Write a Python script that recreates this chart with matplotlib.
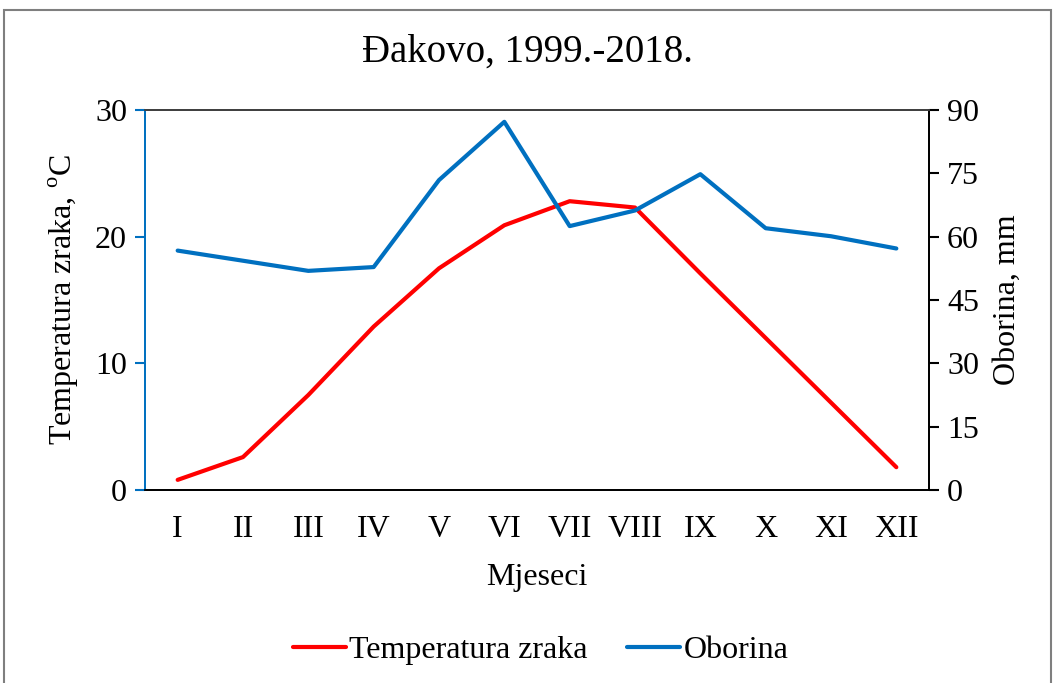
import matplotlib
matplotlib.use("Agg")
import matplotlib.pyplot as plt
from matplotlib.patches import Rectangle

# data
months = ["I", "II", "III", "IV", "V", "VI", "VII", "VIII", "IX", "X", "XI", "XII"]
temperatura = [0.8, 2.6, 7.5, 12.9, 17.5, 20.9, 22.8, 22.3, 17.1, 12.0, 6.9, 1.8]
oborina = [56.7, 54.3, 51.9, 52.8, 73.4, 87.2, 62.5, 66.2, 74.8, 62.0, 60.1, 57.2]

RED = "#FF0000"
BLUE = "#0070C0"
FS = 23

plt.rcParams["font.family"] = ["Liberation Serif", "DejaVu Serif"]
plt.rcParams["mathtext.fontset"] = "custom"
plt.rcParams["mathtext.rm"] = "Liberation Serif"

fig = plt.figure(figsize=(10.56, 6.83), dpi=100)
ax = fig.add_axes([145/1056, 1-490/683, 784/1056, 380/683])
ax2 = ax.twinx()

x = list(range(len(months)))
l1, = ax.plot(x, temperatura, color=RED, lw=3, solid_capstyle="round",
              label="Temperatura zraka")
l2, = ax2.plot(x, oborina, color=BLUE, lw=3, solid_capstyle="round",
               label="Oborina")

ax.set_xlim(-0.5, 11.5)
ax.set_ylim(0, 30)
ax.set_yticks([0, 10, 20, 30])
ax2.set_ylim(0, 90)
ax2.set_yticks([0, 15, 30, 45, 60, 75, 90])
ax.set_xticks(x)
ax.set_xticklabels(months)

ax.tick_params(axis="x", length=0, labelsize=FS, pad=18)
ax.tick_params(axis="y", direction="out", length=7, width=1.5, color=BLUE,
               labelsize=FS, pad=6)
ax2.tick_params(axis="y", direction="out", length=7, width=1.5, color="black",
                labelsize=FS, pad=6)

for a in (ax, ax2):
    for s in a.spines.values():
        s.set_linewidth(1.3)
ax.spines["left"].set_color(BLUE)
ax2.spines["left"].set_color(BLUE)
ax.spines["top"].set_color("#404040")
ax2.spines["top"].set_color("#404040")

ax.set_xlabel("Mjeseci", fontsize=FS, labelpad=14)
ax.set_ylabel(r"Temperatura zraka, $^{\mathrm{o}}$C", fontsize=FS, labelpad=10)
ax2.set_ylabel("Oborina, mm", fontsize=FS, labelpad=10)

fig.text(0.5, 1-52/683, "Đakovo, 1999.-2018.", ha="center", va="center",
         fontsize=28)

fig.legend([l1, l2], ["Temperatura zraka", "Oborina"], loc="center",
           bbox_to_anchor=(0.512, 1-650/683), ncol=2, frameon=False,
           fontsize=FS, handlelength=1.65, handletextpad=0.1, columnspacing=1.25)

fig.patches.append(Rectangle((4/1056, -0.01), 1047/1056, 1-10/683 + 0.01,
                             transform=fig.transFigure, fill=False,
                             edgecolor="#7f7f7f", lw=1.5))

fig.savefig("out.png", dpi=100)
